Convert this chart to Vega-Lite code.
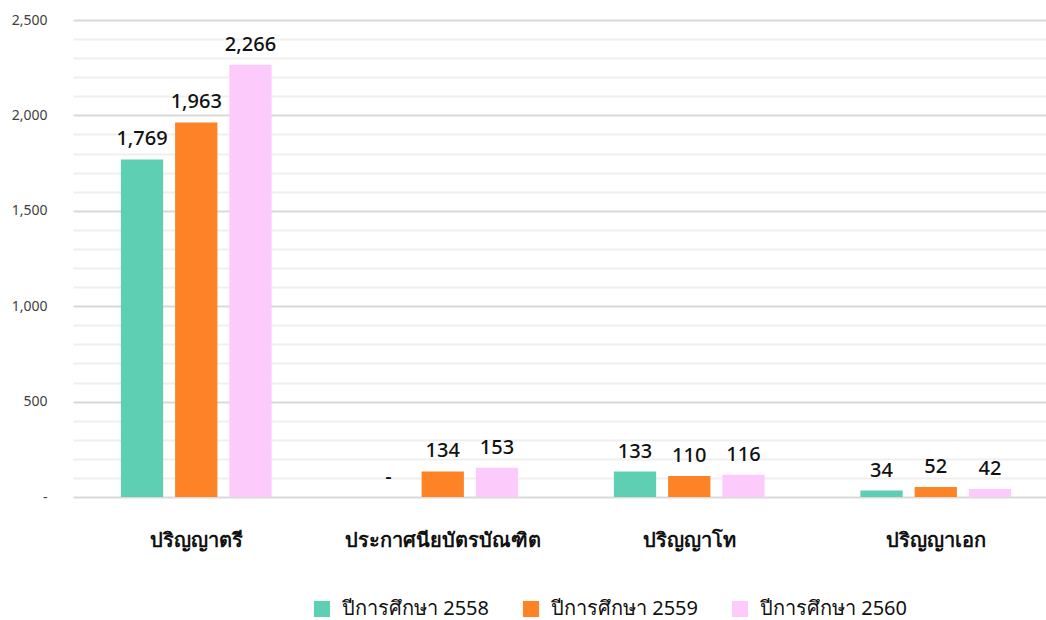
{
  "$schema": "https://vega.github.io/schema/vega-lite/v6.json",
  "autosize": "none",
  "padding": {"left": 73, "top": 20, "right": 0, "bottom": 123},
  "width": 986,
  "height": 477,
  "background": "white",
  "config": {
    "font": "Noto Sans",
    "view": {"stroke": null}
  },
  "data": {
    "values": [
      {"level": "ปริญญาตรี", "year": "ปีการศึกษา 2558", "count": 1769},
      {"level": "ปริญญาตรี", "year": "ปีการศึกษา 2559", "count": 1963},
      {"level": "ปริญญาตรี", "year": "ปีการศึกษา 2560", "count": 2266},
      {"level": "ประกาศนียบัตรบัณฑิต", "year": "ปีการศึกษา 2558", "count": 0},
      {"level": "ประกาศนียบัตรบัณฑิต", "year": "ปีการศึกษา 2559", "count": 134},
      {"level": "ประกาศนียบัตรบัณฑิต", "year": "ปีการศึกษา 2560", "count": 153},
      {"level": "ปริญญาโท", "year": "ปีการศึกษา 2558", "count": 133},
      {"level": "ปริญญาโท", "year": "ปีการศึกษา 2559", "count": 110},
      {"level": "ปริญญาโท", "year": "ปีการศึกษา 2560", "count": 116},
      {"level": "ปริญญาเอก", "year": "ปีการศึกษา 2558", "count": 34},
      {"level": "ปริญญาเอก", "year": "ปีการศึกษา 2559", "count": 52},
      {"level": "ปริญญาเอก", "year": "ปีการศึกษา 2560", "count": 42}
    ]
  },
  "encoding": {
    "x": {
      "field": "level",
      "type": "nominal",
      "sort": null,
      "scale": {"paddingInner": 0.34, "paddingOuter": 0.17},
      "axis": {
        "title": null,
        "labelAngle": 0,
        "labelFontSize": 20,
        "labelFontWeight": "bold",
        "labelColor": "#111111",
        "labelPadding": 33,
        "labelLimit": 0,
        "domain": false,
        "ticks": false
      }
    },
    "xOffset": {
      "field": "year",
      "type": "nominal",
      "scale": {"paddingInner": 0.22, "paddingOuter": 0.11}
    },
    "y": {
      "field": "count",
      "type": "quantitative",
      "scale": {"domain": [0, 2500], "nice": false},
      "axis": {
        "title": null,
        "values": [0,100,200,300,400,500,600,700,800,900,1000,1100,1200,1300,1400,1500,1600,1700,1800,1900,2000,2100,2200,2300,2400,2500],
        "labelExpr": "datum.value == 0 ? '-' : (datum.value % 500 == 0 ? format(datum.value, ',') : '')",
        "labelFontSize": 14,
        "labelColor": "#404040",
        "labelPadding": 26,
        "domain": false,
        "ticks": false,
        "gridColor": {
          "condition": {"test": "datum.value % 500 == 0", "value": "#d9d9d9"},
          "value": "#efefef"
        },
        "gridWidth": 2
      }
    }
  },
  "layer": [
    {
      "mark": {"type": "bar"},
      "encoding": {
        "color": {
          "field": "year",
          "type": "nominal",
          "scale": {"range": ["#5ecfb2", "#fe8326", "#fccbfc"]},
          "legend": {
            "title": null,
            "orient": "none",
            "direction": "horizontal",
            "legendX": 239,
            "legendY": 579,
            "symbolType": "square",
            "symbolSize": 260,
            "symbolStrokeWidth": 0,
            "labelFontSize": 20,
            "labelColor": "#111111",
            "columnPadding": 32,
            "labelOffset": 10
          }
        }
      }
    },
    {
      "mark": {"type": "text", "baseline": "bottom", "dy": -10, "fontSize": 20, "fontWeight": 500, "color": "#111111"},
      "encoding": {
        "text": {
          "condition": {"test": "datum.count == 0", "value": "-"},
          "field": "count",
          "type": "quantitative",
          "format": ","
        }
      }
    }
  ]
}
